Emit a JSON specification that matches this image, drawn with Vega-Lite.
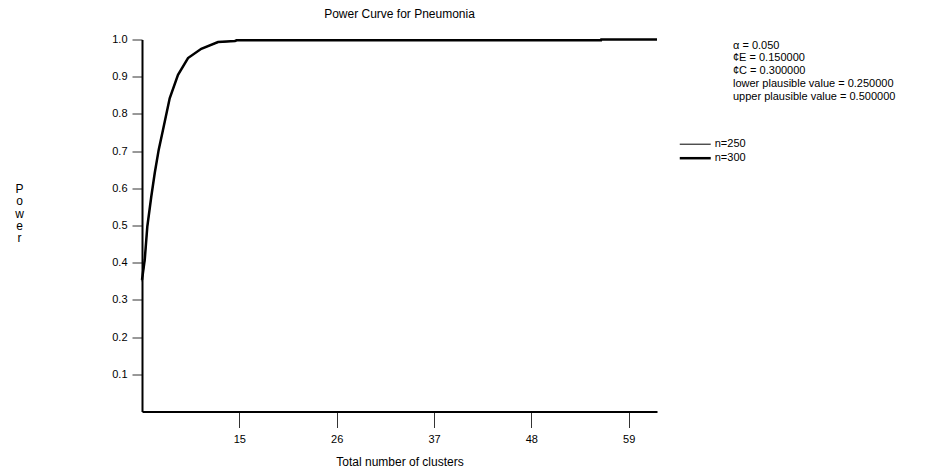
{
  "$schema": "https://vega.github.io/schema/vega-lite/v6.json",
  "width": 515,
  "height": 372,
  "autosize": {"type": "none"},
  "padding": {"left": 142, "top": 39.5, "right": 284, "bottom": 60.5},
  "background": "white",
  "title": {"text": "Power Curve for Pneumonia", "font": "Liberation Sans", "fontSize": 12, "fontWeight": "normal", "color": "black", "anchor": "middle", "baseline": "alphabetic", "offset": 4},
  "config": {"view": {"stroke": null}, "font": "Liberation Sans"},
  "data": {"values": [
    {"series": "n=250", "clusters": 4.0, "power": 0.350},
    {"series": "n=250", "clusters": 4.31, "power": 0.405},
    {"series": "n=250", "clusters": 4.6, "power": 0.495},
    {"series": "n=250", "clusters": 5.05, "power": 0.577},
    {"series": "n=250", "clusters": 5.44, "power": 0.640},
    {"series": "n=250", "clusters": 5.89, "power": 0.703},
    {"series": "n=250", "clusters": 6.37, "power": 0.756},
    {"series": "n=250", "clusters": 7.13, "power": 0.841},
    {"series": "n=250", "clusters": 8.07, "power": 0.904},
    {"series": "n=250", "clusters": 9.2, "power": 0.950},
    {"series": "n=250", "clusters": 10.7, "power": 0.975},
    {"series": "n=250", "clusters": 12.59, "power": 0.992},
    {"series": "n=250", "clusters": 14.51, "power": 0.996},
    {"series": "n=250", "clusters": 14.7, "power": 0.998},
    {"series": "n=250", "clusters": 55.87, "power": 0.998},
    {"series": "n=250", "clusters": 55.9, "power": 1.0},
    {"series": "n=250", "clusters": 62.2, "power": 1.0},
    {"series": "n=300", "clusters": 4.0, "power": 0.354},
    {"series": "n=300", "clusters": 4.31, "power": 0.408},
    {"series": "n=300", "clusters": 4.6, "power": 0.497},
    {"series": "n=300", "clusters": 5.05, "power": 0.578},
    {"series": "n=300", "clusters": 5.44, "power": 0.641},
    {"series": "n=300", "clusters": 5.89, "power": 0.704},
    {"series": "n=300", "clusters": 6.37, "power": 0.757},
    {"series": "n=300", "clusters": 7.13, "power": 0.842},
    {"series": "n=300", "clusters": 8.07, "power": 0.905},
    {"series": "n=300", "clusters": 9.2, "power": 0.950},
    {"series": "n=300", "clusters": 10.7, "power": 0.975},
    {"series": "n=300", "clusters": 12.59, "power": 0.993},
    {"series": "n=300", "clusters": 14.51, "power": 0.996},
    {"series": "n=300", "clusters": 14.7, "power": 0.998},
    {"series": "n=300", "clusters": 55.87, "power": 0.998},
    {"series": "n=300", "clusters": 55.9, "power": 1.0},
    {"series": "n=300", "clusters": 62.2, "power": 1.0}
  ]},
  "mark": {"type": "line", "color": "black", "clip": false},
  "encoding": {
    "x": {
      "field": "clusters", "type": "quantitative",
      "scale": {"domain": [4, 62.2], "nice": false, "zero": false},
      "axis": {"values": [15, 26, 37, 48, 59], "title": "Total number of clusters", "grid": false,
        "domainColor": "black", "domainWidth": 2, "tickColor": "#333", "tickWidth": 1, "tickSize": 16,
        "labelFontSize": 11, "labelColor": "black", "labelPadding": 6, "labelFont": "Liberation Sans",
        "titleFontSize": 12, "titleFontWeight": "normal", "titleColor": "black", "titlePadding": 12, "titleFont": "Liberation Sans"}
    },
    "y": {
      "field": "power", "type": "quantitative",
      "scale": {"domain": [0, 1], "nice": false},
      "axis": {"values": [0.1, 0.2, 0.3, 0.4, 0.5, 0.6, 0.7, 0.8, 0.9, 1.0], "format": ".1f", "grid": false,
        "title": ["P", "o", "w", "e", "r"], "titleAngle": 0, "titleX": -123, "titleY": 144, "titleAlign": "center", "titleBaseline": "top", "titleLineHeight": 12.3,
        "titleFontSize": 12, "titleFontWeight": "normal", "titleColor": "black", "titleFont": "Liberation Sans",
        "domainColor": "black", "domainWidth": 2, "tickColor": "#333", "tickWidth": 1, "tickSize": 10,
        "labelFontSize": 11, "labelColor": "black", "labelPadding": 5, "labelFont": "Liberation Sans"}
    },
    "strokeWidth": {
      "field": "series", "type": "nominal",
      "scale": {"domain": ["n=250", "n=300"], "range": [1, 2.5]},
      "legend": {"orient": "none", "legendX": 591, "legendY": 0,
        "title": ["α = 0.050", "¢E = 0.150000", "¢C = 0.300000", "lower plausible value = 0.250000", "upper plausible value = 0.500000"],
        "titleFontSize": 11, "titleFontWeight": "normal", "titleColor": "black", "titleFont": "Liberation Sans", "titleLineHeight": 12.8, "titlePadding": 37,
        "titleAnchor": "start", "titleAlign": "left", "titleLimit": 400,
        "symbolType": "M-4,0H4", "symbolSize": 60, "symbolStrokeColor": "black", "symbolOffset": -43.25,
        "labelOffset": 14, "labelFontSize": 11, "labelColor": "black", "labelFont": "Liberation Sans",
        "padding": 0, "rowPadding": 2}
    }
  }
}
